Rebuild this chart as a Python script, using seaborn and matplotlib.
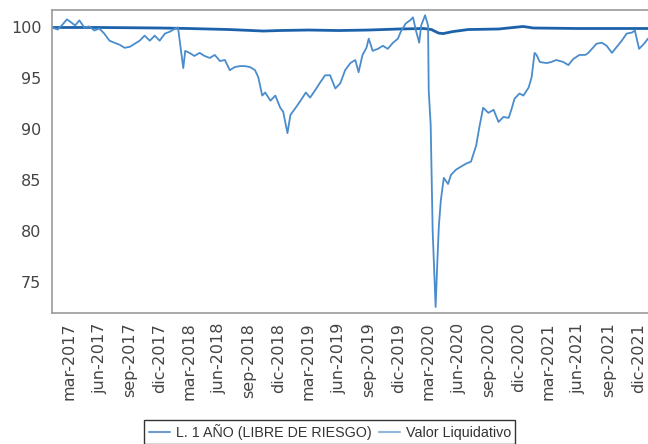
import pandas as pd
import matplotlib
matplotlib.use("Agg")
import matplotlib.pyplot as plt
import seaborn as sns

# Valor Liquidativo
vl_dates = [
    "2017-01-07", "2017-01-25", "2017-02-09", "2017-02-22", "2017-03-07", "2017-03-19",
    "2017-04-01", "2017-04-16", "2017-05-01", "2017-05-17", "2017-06-01", "2017-06-16",
    "2017-07-02", "2017-07-17", "2017-08-02", "2017-08-17", "2017-09-02", "2017-09-17",
    "2017-10-02", "2017-10-17", "2017-11-02", "2017-11-17", "2017-12-02", "2017-12-18",
    "2018-01-03", "2018-01-18", "2018-01-27", "2018-02-12", "2018-02-18", "2018-03-03",
    "2018-03-18", "2018-04-03", "2018-04-18", "2018-05-04", "2018-05-19", "2018-06-04",
    "2018-06-19", "2018-07-04", "2018-07-19", "2018-08-04", "2018-08-19", "2018-09-04",
    "2018-09-19", "2018-09-29", "2018-10-11", "2018-10-20", "2018-11-05", "2018-11-20",
    "2018-12-05", "2018-12-14", "2018-12-27", "2019-01-05", "2019-01-21", "2019-02-05",
    "2019-02-21", "2019-03-06", "2019-03-21", "2019-04-06", "2019-04-21", "2019-05-06",
    "2019-05-22", "2019-06-06", "2019-06-21", "2019-07-07", "2019-07-22", "2019-08-01",
    "2019-08-13", "2019-08-25", "2019-09-01", "2019-09-13", "2019-09-29", "2019-10-14",
    "2019-10-29", "2019-11-14", "2019-11-29", "2019-12-08", "2019-12-23", "2020-01-05",
    "2020-01-14", "2020-01-23", "2020-02-02", "2020-02-08", "2020-02-20", "2020-02-29",
    "2020-03-02", "2020-03-08", "2020-03-14", "2020-03-23", "2020-03-29", "2020-04-02",
    "2020-04-08", "2020-04-17", "2020-04-30", "2020-05-09", "2020-05-24", "2020-06-08",
    "2020-06-24", "2020-07-09", "2020-07-25", "2020-08-03", "2020-08-15", "2020-08-31",
    "2020-09-16", "2020-10-01", "2020-10-16", "2020-11-01", "2020-11-10", "2020-11-19",
    "2020-12-04", "2020-12-16", "2021-01-01", "2021-01-10", "2021-01-19", "2021-01-25",
    "2021-02-04", "2021-02-25", "2021-03-11", "2021-03-26", "2021-04-17", "2021-05-02",
    "2021-05-17", "2021-06-05", "2021-06-23", "2021-07-02", "2021-07-27", "2021-08-12",
    "2021-08-27", "2021-09-12", "2021-09-27", "2021-10-12", "2021-10-27", "2021-11-12",
    "2021-11-21", "2021-12-04", "2021-12-19", "2021-12-31", "2022-01-07",
]
vl_values = [
    100.0, 99.8, 100.3, 100.8, 100.5, 100.2,
    100.7, 100.0, 100.1, 99.7, 99.9, 99.4,
    98.7, 98.5, 98.3, 98.0, 98.1, 98.4,
    98.7, 99.2, 98.7, 99.2, 98.7, 99.4,
    99.6, 99.9, 100.0, 96.0, 97.7, 97.5,
    97.2, 97.5, 97.2, 97.0, 97.3, 96.7,
    96.8, 95.8, 96.1, 96.2, 96.2, 96.1,
    95.8, 95.1, 93.3, 93.6, 92.8, 93.3,
    92.1, 91.7, 89.6, 91.4, 92.1, 92.8,
    93.6, 93.1, 93.8, 94.6, 95.3, 95.3,
    94.0, 94.5, 95.8, 96.5, 96.8, 95.6,
    97.3, 98.0, 98.9, 97.7, 97.9, 98.2,
    97.9, 98.5, 98.9, 99.6, 100.4, 100.7,
    101.0, 99.7, 98.5, 100.2, 101.2, 100.2,
    93.8, 90.4, 80.0, 72.5, 77.5, 80.5,
    83.0, 85.2, 84.6, 85.5, 86.0, 86.3,
    86.6, 86.8, 88.4, 90.1, 92.1, 91.6,
    91.9, 90.7, 91.2, 91.1, 92.0, 93.0,
    93.5, 93.3, 94.1, 95.1, 97.5, 97.3,
    96.6, 96.5, 96.6, 96.8, 96.6, 96.3,
    96.9, 97.3, 97.3, 97.5, 98.4, 98.5,
    98.2, 97.5, 98.1, 98.7, 99.4, 99.5,
    99.7, 97.9, 98.4, 98.9, 98.8,
]

# L. 1 AÑO (libre de riesgo)
rf_dates = [
    "2017-01-07", "2017-06-01", "2017-12-01", "2018-03-01", "2018-07-01", "2018-10-15",
    "2018-12-01", "2019-03-01", "2019-06-01", "2019-09-01", "2019-12-01", "2020-02-15",
    "2020-03-10", "2020-04-01", "2020-04-15", "2020-05-15", "2020-07-01", "2020-10-01",
    "2020-12-15", "2021-01-15", "2021-06-01", "2022-01-07",
]
rf_values = [
    100.0, 100.0, 99.95, 99.9, 99.8, 99.65,
    99.7, 99.75, 99.7, 99.75, 99.85, 99.9,
    99.8, 99.45, 99.4, 99.6, 99.8, 99.85,
    100.1, 99.95, 99.9, 99.9,
]

tick_dates = pd.date_range("2017-03-01", "2021-12-01", freq="3MS")
tick_labels = ["mar-2017", "jun-2017", "sep-2017", "dic-2017", "mar-2018", "jun-2018",
               "sep-2018", "dic-2018", "mar-2019", "jun-2019", "sep-2019", "dic-2019",
               "mar-2020", "jun-2020", "sep-2020", "dic-2020", "mar-2021", "jun-2021",
               "sep-2021", "dic-2021"]

rf_df = pd.DataFrame({"fecha": pd.to_datetime(rf_dates), "valor": rf_values})
vl_df = pd.DataFrame({"fecha": pd.to_datetime(vl_dates), "valor": vl_values})

sns.set_style("white")
plt.rcParams["font.family"] = ["DejaVu Sans"]

fig = plt.figure(figsize=(6.48, 4.44), dpi=100)
ax = fig.add_axes([0.080, 0.295, 0.925, 0.682])

sns.lineplot(data=rf_df, x="fecha", y="valor", ax=ax, color="#1c62aa", linewidth=2.0,
             label="L. 1 AÑO (LIBRE DE RIESGO)")
sns.lineplot(data=vl_df, x="fecha", y="valor", ax=ax, color="#4a8ccc", linewidth=1.3,
             label="Valor Liquidativo")

ax.set_xlim(pd.Timestamp("2017-01-07"), pd.Timestamp("2022-01-10"))
ax.set_ylim(71.9, 101.7)
ax.set_yticks([75, 80, 85, 90, 95, 100])
ax.set_xticks(tick_dates)
ax.set_xticklabels(tick_labels, rotation=90)
ax.set_xlabel("")
ax.set_ylabel("")

for s in ax.spines.values():
    s.set_color("#9a9a9a")
    s.set_linewidth(1.2)
ax.tick_params(axis="both", colors="#9a9a9a", labelcolor="#444444", length=4, width=0.8,
               direction="out", labelsize=11.5)
ax.tick_params(axis="x", pad=3)

leg = ax.legend(loc="center", bbox_to_anchor=(0.509, 0.027), bbox_transform=fig.transFigure,
                ncol=2, frameon=True, fancybox=False, handlelength=1.5, handletextpad=0.4,
                columnspacing=0.5, borderpad=0.3,
                prop={"family": "Liberation Sans", "size": 10.3})
leg.get_frame().set_edgecolor("black")
leg.get_frame().set_linewidth(1.0)
leg.get_lines()[0].set_color("#6b9ccb")
leg.get_lines()[1].set_color("#8fb7de")
for ln in leg.get_lines():
    ln.set_linewidth(1.5)
for t in leg.get_texts():
    t.set_color("#333333")

fig.savefig("out.png", dpi=100)
